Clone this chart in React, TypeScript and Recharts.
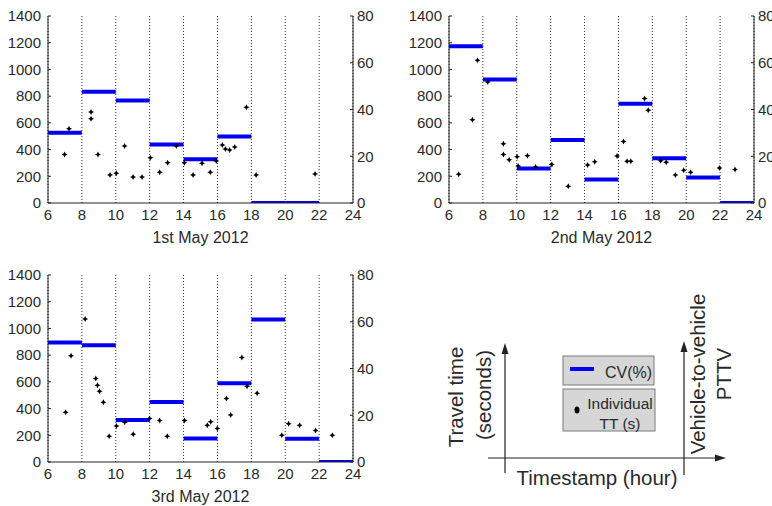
import { ComposedChart, Line, Scatter, XAxis, YAxis, CartesianGrid, Label } from "recharts";

const hourTicks = [6, 8, 10, 12, 14, 16, 18, 20, 22, 24];
const ttTicks = [0, 200, 400, 600, 800, 1000, 1200, 1400];
const cvTicks = [0, 20, 40, 60, 80];

// CV is computed over 2-hour windows starting at these hours
const windowStarts = [6, 8, 10, 12, 14, 16, 18, 20, 22];

const dayTitles = ["1st May 2012", "2nd May 2012", "3rd May 2012"];

// CV (%) per window, null where the window has no value
const day1CV = [30.1, 47.6, 43.8, 25, 18.7, 28.5, 0, 0, null];
const day2CV = [67.1, 52.8, 14.8, 26.9, 10.1, 42.5, 19.1, 10.9, 0];
const day3CV = [51.1, 50, 18, 25.7, 10.1, 33.7, 61, 9.9, 0];

// individual travel times: hour of day and seconds
const day1Hours = [6.98, 7.24, 8.54, 8.54, 8.95, 9.66, 10.03, 10.52, 11.02, 11.55, 12.04, 12.59, 13.06, 13.57, 14.05, 14.56, 15.09, 15.58, 15.93, 16.29, 16.47, 16.72, 17.02, 17.71, 18.28, 21.76];
const day1TT = [364, 556, 681, 631, 364, 210, 222, 427, 195, 195, 339, 230, 302, 427, 302, 210, 297, 230, 314, 434, 404, 397, 419, 716, 210, 217];

const day2Hours = [6.57, 7.38, 7.68, 8.29, 9.21, 9.21, 9.55, 10.02, 10.08, 10.63, 11.11, 12.07, 13.04, 14.18, 14.6, 15.92, 16.3, 16.51, 16.73, 17.54, 17.76, 18.49, 18.82, 19.36, 19.85, 20.26, 21.96, 22.88];
const day2TT = [215, 624, 1068, 906, 444, 364, 324, 347, 277, 354, 270, 289, 125, 284, 309, 352, 460, 312, 312, 782, 694, 317, 305, 210, 245, 230, 262, 250];

const day3Hours = [7.04, 7.36, 8.19, 8.82, 8.92, 9.04, 9.27, 9.61, 10.04, 10.53, 11.03, 11.99, 12.59, 13.04, 14.06, 15.4, 15.6, 15.99, 16.53, 16.78, 17.44, 17.75, 18.34, 19.8, 20.2, 20.85, 21.79, 22.78];
const day3TT = [372, 795, 1070, 625, 575, 530, 447, 192, 270, 297, 207, 325, 310, 192, 310, 275, 302, 250, 475, 352, 782, 567, 515, 200, 287, 275, 235, 200];

const FONT = "'Liberation Sans', Arial, Helvetica, sans-serif";
const TEXT = "#2a2a2a";
const AXIS = "#222";
const BLUE = "#0000ee";

const LeftTick = ({ x, y, payload }: any) => (
  <g>
    <text x={x} y={y} dy="0.35em" textAnchor="end" fontSize={15} fill={TEXT} fontFamily={FONT}>
      {payload.value}
    </text>
    <line x1={x + 7} x2={x + 10} y1={y} y2={y} stroke={AXIS} />
  </g>
);

const RightTick = ({ x, y, payload }: any) => (
  <g>
    <text x={x} y={y} dy="0.35em" textAnchor="start" fontSize={15} fill={TEXT} fontFamily={FONT}>
      {payload.value}
    </text>
    <line x1={x - 7} x2={x - 4} y1={y} y2={y} stroke={AXIS} />
  </g>
);

const BottomTick = ({ x, y, payload }: any) => (
  <text x={x} y={y} dy="0.71em" textAnchor="middle" fontSize={15} fill={TEXT} fontFamily={FONT}>
    {payload.value}
  </text>
);

// small black star marker
const StarDot = ({ cx, cy }: any) => (
  <path
    d={`M${cx},${cy - 3} L${cx + 1},${cy - 1} L${cx + 3},${cy} L${cx + 1},${cy + 1} L${cx},${cy + 3} L${cx - 1},${cy + 1} L${cx - 3},${cy} L${cx - 1},${cy - 1} Z`}
    fill="#000"
  />
);

function DayPanel({
  title,
  cv,
  hours,
  tt,
  left,
  top,
}: {
  title: string;
  cv: (number | null)[];
  hours: number[];
  tt: number[];
  left: number;
  top: number;
}) {
  const points = hours.map((h, i) => ({ hour: h, tt: tt[i] }));

  // one short segment per window
  const segments = windowStarts
    .map((s, i) => ({ s, v: cv[i] }))
    .filter((w) => w.v !== null)
    .map((w) => [
      { hour: w.s, cv: w.v },
      { hour: w.s + 2, cv: w.v },
    ]);

  return (
    <div style={{ position: "absolute", left, top }}>
      <ComposedChart width={390} height={250} margin={{ top: 16, right: 0, left: 0, bottom: 0 }}>
        <CartesianGrid
          vertical
          horizontal={false}
          yAxisId="left"
          stroke="#333"
          strokeDasharray="1 2"
        />
        <XAxis
          dataKey="hour"
          type="number"
          domain={[6, 24]}
          ticks={hourTicks}
          allowDataOverflow
          height={47}
          tickSize={0}
          tickMargin={6}
          tick={<BottomTick />}
          stroke={AXIS}
        >
          <Label
            value={title}
            position="insideBottom"
            offset={7}
            fontSize={16}
            fill={TEXT}
            fontFamily={FONT}
          />
        </XAxis>
        <YAxis
          yAxisId="left"
          type="number"
          domain={[0, 1400]}
          ticks={ttTicks}
          width={48}
          tickSize={0}
          tickMargin={7}
          tickLine={false}
          tick={<LeftTick />}
          stroke={AXIS}
          allowDataOverflow
        />
        <YAxis
          yAxisId="right"
          orientation="right"
          type="number"
          domain={[0, 80]}
          ticks={cvTicks}
          width={37}
          tickSize={0}
          tickMargin={4}
          tickLine={false}
          tick={<RightTick />}
          stroke={AXIS}
          allowDataOverflow
        />
        {segments.map((seg, i) => (
          <Line
            key={i}
            yAxisId="right"
            data={seg}
            dataKey="cv"
            stroke={BLUE}
            strokeWidth={4}
            dot={false}
            activeDot={false}
            isAnimationActive={false}
          />
        ))}
        <Scatter
          yAxisId="left"
          data={points}
          dataKey="tt"
          shape={<StarDot />}
          isAnimationActive={false}
        />
      </ComposedChart>
    </div>
  );
}

function AxesDiagram() {
  const txt = { fontFamily: FONT, fill: TEXT };
  return (
    <svg width={382} height={251} style={{ position: "absolute", left: 390, top: 255 }}>
      {/* axes arrows */}
      <line x1={115} y1={218} x2={115} y2={96} stroke="#222" strokeWidth={1.2} />
      <polygon points="115,88 111.5,99 118.5,99" fill="#222" />
      <line x1={98} y1={203} x2={326} y2={203} stroke="#222" strokeWidth={1.2} />
      <polygon points="336,203 325,199.5 325,206.5" fill="#222" />
      <line x1={294} y1={220} x2={294} y2={94} stroke="#222" strokeWidth={1.2} />
      <polygon points="294,86 290.5,97 297.5,97" fill="#222" />

      <text x={65} y={142} transform="rotate(-90 65 142)" textAnchor="middle" dominantBaseline="central" fontSize={20.5} {...txt}>
        Travel time
      </text>
      <text x={93} y={140} transform="rotate(-90 93 140)" textAnchor="middle" dominantBaseline="central" fontSize={20.5} {...txt}>
        (seconds)
      </text>
      <text x={307} y={119} transform="rotate(-90 307 119)" textAnchor="middle" dominantBaseline="central" fontSize={20.5} {...txt}>
        Vehicle-to-vehicle
      </text>
      <text x={333} y={119} transform="rotate(-90 333 119)" textAnchor="middle" dominantBaseline="central" fontSize={20.5} {...txt}>
        PTTV
      </text>
      <text x={207} y={222} textAnchor="middle" dominantBaseline="central" fontSize={20.5} {...txt}>
        Timestamp (hour)
      </text>

      {/* legend boxes */}
      <rect x={173} y={101} width={91} height={29} fill="#d6d6d6" stroke="#7a7a7a" />
      <line x1={180} x2={204} y1={114} y2={114} stroke={BLUE} strokeWidth={4} />
      <text x={215} y={117} dominantBaseline="central" fontSize={16} {...txt}>
        CV(%)
      </text>
      <rect x={173} y={134} width={92} height={42} fill="#d6d6d6" stroke="#7a7a7a" />
      <ellipse cx={187} cy={155} rx={2.5} ry={3.5} fill="#000" />
      <text x={230} y={148} textAnchor="middle" dominantBaseline="central" fontSize={15.5} {...txt}>
        Individual
      </text>
      <text x={230} y={168} textAnchor="middle" dominantBaseline="central" fontSize={15.5} {...txt}>
        TT (s)
      </text>
    </svg>
  );
}

export default function App() {
  return (
    <div
      style={{
        position: "absolute",
        left: 0,
        top: 0,
        width: 772,
        height: 506,
        overflow: "hidden",
        background: "#fff",
      }}
    >
      <DayPanel title={dayTitles[0]} cv={day1CV} hours={day1Hours} tt={day1TT} left={0} top={0} />
      <DayPanel title={dayTitles[1]} cv={day2CV} hours={day2Hours} tt={day2TT} left={401} top={0} />
      <DayPanel title={dayTitles[2]} cv={day3CV} hours={day3Hours} tt={day3TT} left={0} top={259} />
      <AxesDiagram />
    </div>
  );
}
